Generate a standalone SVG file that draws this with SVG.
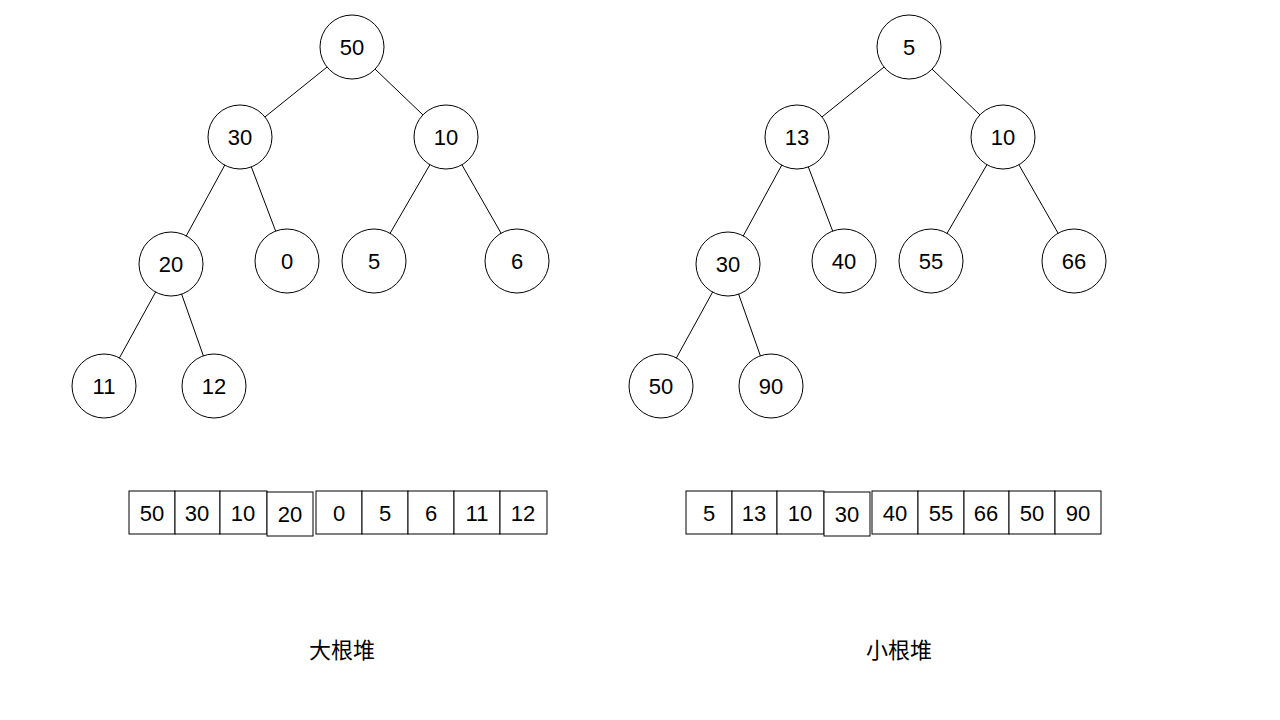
<svg xmlns="http://www.w3.org/2000/svg" width="1280" height="720" viewBox="0 0 1280 720">
<style>
circle{fill:#fff;stroke:#000;stroke-width:1}
line{stroke:#000;stroke-width:1}
rect{fill:#fff;stroke:#000;stroke-width:1}
text{font-family:"Liberation Sans","Noto Sans CJK SC",sans-serif;font-size:22px;text-anchor:middle;dominant-baseline:central;fill:#000}
</style>
<rect x="0" y="0" width="1280" height="720" style="stroke:none"/>
<g id="connectors">
<line x1="352" y1="47" x2="240" y2="137"/><line x1="352" y1="47" x2="446" y2="137"/>
<line x1="240" y1="137" x2="171" y2="264"/><line x1="240" y1="137" x2="287" y2="261"/>
<line x1="446" y1="137" x2="374" y2="261"/><line x1="446" y1="137" x2="517" y2="261"/>
<line x1="171" y1="264" x2="104" y2="386"/><line x1="171" y1="264" x2="214" y2="386"/>
<line x1="909" y1="47" x2="797" y2="137"/><line x1="909" y1="47" x2="1003" y2="137"/>
<line x1="797" y1="137" x2="728" y2="264"/><line x1="797" y1="137" x2="844" y2="261"/>
<line x1="1003" y1="137" x2="931" y2="261"/><line x1="1003" y1="137" x2="1074" y2="261"/>
<line x1="728" y1="264" x2="661" y2="386"/><line x1="728" y1="264" x2="771" y2="386"/>
</g>
<g id="n50"><circle cx="352" cy="47" r="32"/><text x="352" y="47">50</text></g>
<g id="n30"><circle cx="240" cy="137" r="32"/><text x="240" y="137">30</text></g>
<g id="n10"><circle cx="446" cy="137" r="32"/><text x="446" y="137">10</text></g>
<g id="n20"><circle cx="171" cy="264" r="32"/><text x="171" y="264">20</text></g>
<g id="n0"><circle cx="287" cy="261" r="32"/><text x="287" y="261">0</text></g>
<g id="n5"><circle cx="374" cy="261" r="32"/><text x="374" y="261">5</text></g>
<g id="n6"><circle cx="517" cy="261" r="32"/><text x="517" y="261">6</text></g>
<g id="n11"><circle cx="104" cy="386" r="32"/><text x="104" y="386">11</text></g>
<g id="n12"><circle cx="214" cy="386" r="32"/><text x="214" y="386">12</text></g>
<g id="m5"><circle cx="909" cy="47" r="32"/><text x="909" y="47">5</text></g>
<g id="m13"><circle cx="797" cy="137" r="32"/><text x="797" y="137">13</text></g>
<g id="m10"><circle cx="1003" cy="137" r="32"/><text x="1003" y="137">10</text></g>
<g id="m30"><circle cx="728" cy="264" r="32"/><text x="728" y="264">30</text></g>
<g id="m40"><circle cx="844" cy="261" r="32"/><text x="844" y="261">40</text></g>
<g id="m55"><circle cx="931" cy="261" r="32"/><text x="931" y="261">55</text></g>
<g id="m66"><circle cx="1074" cy="261" r="32"/><text x="1074" y="261">66</text></g>
<g id="m50"><circle cx="661" cy="386" r="32"/><text x="661" y="386">50</text></g>
<g id="m90"><circle cx="771" cy="386" r="32"/><text x="771" y="386">90</text></g>
<g id="arr1">
<rect x="129" y="491" width="46" height="43"/><text x="152" y="513">50</text>
<rect x="175" y="491" width="45" height="43"/><text x="197" y="513">30</text>
<rect x="220" y="491" width="47" height="43"/><text x="243" y="513">10</text>
<rect x="316" y="491" width="46" height="43"/><text x="339" y="513">0</text>
<rect x="362" y="491" width="46" height="43"/><text x="385" y="513">5</text>
<rect x="408" y="491" width="46" height="43"/><text x="431" y="513">6</text>
<rect x="454" y="491" width="46" height="43"/><text x="477" y="513">11</text>
<rect x="500" y="491" width="47" height="43"/><text x="523" y="513">12</text>
<rect x="267" y="492" width="46" height="44"/><text x="290" y="514">20</text>
</g>
<g id="arr2">
<rect x="686" y="491" width="46" height="43"/><text x="709" y="513">5</text>
<rect x="732" y="491" width="45" height="43"/><text x="754" y="513">13</text>
<rect x="777" y="491" width="47" height="43"/><text x="800" y="513">10</text>
<rect x="872" y="491" width="46" height="43"/><text x="895" y="513">40</text>
<rect x="918" y="491" width="46" height="43"/><text x="941" y="513">55</text>
<rect x="964" y="491" width="45" height="43"/><text x="986" y="513">66</text>
<rect x="1009" y="491" width="46" height="43"/><text x="1032" y="513">50</text>
<rect x="1055" y="491" width="46" height="43"/><text x="1078" y="513">90</text>
<rect x="824" y="492" width="46" height="44"/><text x="847" y="514">30</text>
</g>
<text x="342" y="650">大根堆</text>
<text x="899" y="650">小根堆</text>
</svg>
